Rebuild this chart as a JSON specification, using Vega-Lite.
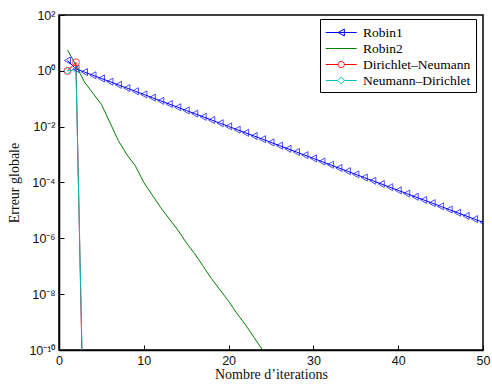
{
  "$schema": "https://vega.github.io/schema/vega-lite/v6.json",
  "autosize": "none",
  "width": 424,
  "height": 335,
  "padding": {"left": 59, "top": 15, "right": 9, "bottom": 39},
  "background": "white",
  "config": {
    "view": {"stroke": "black", "strokeWidth": 1.5},
    "axis": {
      "grid": false,
      "domainColor": "black",
      "domainWidth": 1.5,
      "tickColor": "black",
      "tickWidth": 1,
      "tickSize": -5,
      "labelFont": "Liberation Sans",
      "labelFontSize": 12.5,
      "labelColor": "#111",
      "titleFont": "Liberation Serif",
      "titleFontSize": 14,
      "titleFontWeight": "normal",
      "titleColor": "#111"
    },
    "legend": {
      "title": null,
      "orient": "none",
      "legendX": 261,
      "legendY": 4,
      "strokeColor": "black",
      "fillColor": "white",
      "padding": 5,
      "rowPadding": 1,
      "symbolSize": 240,
      "symbolStrokeWidth": 1,
      "symbolOpacity": 1,
      "labelOffset": 21,
      "labelFont": "Liberation Serif",
      "labelFontSize": 13.5,
      "labelColor": "black",
      "labelLimit": 300
    }
  },
  "data": {
    "values": [
      {"s": "Robin1", "x": 1, "y": 2.34},
      {"s": "Robin1", "x": 2, "y": 1.175},
      {"s": "Robin1", "x": 3, "y": 0.9027},
      {"s": "Robin1", "x": 4, "y": 0.6934},
      {"s": "Robin1", "x": 5, "y": 0.5327},
      {"s": "Robin1", "x": 6, "y": 0.4093},
      {"s": "Robin1", "x": 7, "y": 0.3144},
      {"s": "Robin1", "x": 8, "y": 0.2415},
      {"s": "Robin1", "x": 9, "y": 0.1855},
      {"s": "Robin1", "x": 10, "y": 0.1426},
      {"s": "Robin1", "x": 11, "y": 0.1095},
      {"s": "Robin1", "x": 12, "y": 0.08414},
      {"s": "Robin1", "x": 13, "y": 0.06464},
      {"s": "Robin1", "x": 14, "y": 0.04966},
      {"s": "Robin1", "x": 15, "y": 0.03815},
      {"s": "Robin1", "x": 16, "y": 0.02931},
      {"s": "Robin1", "x": 17, "y": 0.02252},
      {"s": "Robin1", "x": 18, "y": 0.0173},
      {"s": "Robin1", "x": 19, "y": 0.01329},
      {"s": "Robin1", "x": 20, "y": 0.01021},
      {"s": "Robin1", "x": 21, "y": 0.007844},
      {"s": "Robin1", "x": 22, "y": 0.006026},
      {"s": "Robin1", "x": 23, "y": 0.00463},
      {"s": "Robin1", "x": 24, "y": 0.003556},
      {"s": "Robin1", "x": 25, "y": 0.002732},
      {"s": "Robin1", "x": 26, "y": 0.002099},
      {"s": "Robin1", "x": 27, "y": 0.001612},
      {"s": "Robin1", "x": 28, "y": 0.001239},
      {"s": "Robin1", "x": 29, "y": 0.0009517},
      {"s": "Robin1", "x": 30, "y": 0.0007311},
      {"s": "Robin1", "x": 31, "y": 0.0005617},
      {"s": "Robin1", "x": 32, "y": 0.0004315},
      {"s": "Robin1", "x": 33, "y": 0.0003315},
      {"s": "Robin1", "x": 34, "y": 0.0002547},
      {"s": "Robin1", "x": 35, "y": 0.0001957},
      {"s": "Robin1", "x": 36, "y": 0.0001503},
      {"s": "Robin1", "x": 37, "y": 0.0001155},
      {"s": "Robin1", "x": 38, "y": 0.00008872},
      {"s": "Robin1", "x": 39, "y": 0.00006816},
      {"s": "Robin1", "x": 40, "y": 0.00005236},
      {"s": "Robin1", "x": 41, "y": 0.00004023},
      {"s": "Robin1", "x": 42, "y": 0.0000309},
      {"s": "Robin1", "x": 43, "y": 0.00002374},
      {"s": "Robin1", "x": 44, "y": 0.00001824},
      {"s": "Robin1", "x": 45, "y": 0.00001401},
      {"s": "Robin1", "x": 46, "y": 0.00001076},
      {"s": "Robin1", "x": 47, "y": 0.00000827},
      {"s": "Robin1", "x": 48, "y": 0.000006353},
      {"s": "Robin1", "x": 49, "y": 0.000004881},
      {"s": "Robin1", "x": 50, "y": 0.00000375},
      {"s": "Robin2", "x": 1, "y": 5.62},
      {"s": "Robin2", "x": 2, "y": 1.585},
      {"s": "Robin2", "x": 3, "y": 0.398},
      {"s": "Robin2", "x": 4, "y": 0.158},
      {"s": "Robin2", "x": 5, "y": 0.0631},
      {"s": "Robin2", "x": 6, "y": 0.01413},
      {"s": "Robin2", "x": 7, "y": 0.003162},
      {"s": "Robin2", "x": 8, "y": 0.001},
      {"s": "Robin2", "x": 9, "y": 0.000398},
      {"s": "Robin2", "x": 10, "y": 0.0001},
      {"s": "Robin2", "x": 11, "y": 3.55e-5},
      {"s": "Robin2", "x": 12, "y": 1.26e-5},
      {"s": "Robin2", "x": 13, "y": 5.01e-6},
      {"s": "Robin2", "x": 14, "y": 2.0e-6},
      {"s": "Robin2", "x": 15, "y": 7.08e-7},
      {"s": "Robin2", "x": 16, "y": 2.82e-7},
      {"s": "Robin2", "x": 17, "y": 1.0e-7},
      {"s": "Robin2", "x": 18, "y": 3.55e-8},
      {"s": "Robin2", "x": 19, "y": 1.41e-8},
      {"s": "Robin2", "x": 20, "y": 5.62e-9},
      {"s": "Robin2", "x": 21, "y": 2.0e-9},
      {"s": "Robin2", "x": 22, "y": 7.94e-10},
      {"s": "Robin2", "x": 23, "y": 2.82e-10},
      {"s": "Robin2", "x": 24, "y": 1.0e-10},
      {"s": "Robin2", "x": 25, "y": 3.55e-11},
      {"s": "Dirichlet–Neumann", "x": 1, "y": 1.0},
      {"s": "Dirichlet–Neumann", "x": 2, "y": 2.0},
      {"s": "Dirichlet–Neumann", "x": 3, "y": 3e-15},
      {"s": "Neumann–Dirichlet", "x": 1, "y": 1.0},
      {"s": "Neumann–Dirichlet", "x": 2, "y": 1.1},
      {"s": "Neumann–Dirichlet", "x": 3, "y": 1e-14}
    ]
  },
  "encoding": {
    "x": {
      "field": "x", "type": "quantitative",
      "scale": {"domain": [0, 50], "nice": false, "zero": false},
      "axis": {"values": [0, 10, 20, 30, 40, 50], "format": "d", "labelPadding": 9, "labelFlush": false, "title": "Nombre d’iterations", "titlePadding": 1}
    },
    "y": {
      "field": "y", "type": "quantitative",
      "scale": {"type": "log", "domain": [1e-10, 100], "nice": false},
      "axis": {
        "values": [1e-10, 1e-8, 1e-6, 1e-4, 1e-2, 1, 100],
        "labelExpr": "['10⁻¹⁰','10⁻⁸','10⁻⁶','10⁻⁴','10⁻²','10⁰','10²'][round(log(datum.value)/LN10)/2+5]",
        "labelPadding": 9,
        "labelFlush": false,
        "title": "Erreur globale",
        "titlePadding": 7
      }
    }
  },
  "layer": [
    {
      "mark": {"type": "line", "clip": true, "strokeWidth": 1},
      "encoding": {
        "color": {
          "field": "s", "type": "nominal",
          "scale": {
            "domain": ["Robin1", "Robin2", "Dirichlet–Neumann", "Neumann–Dirichlet"],
            "range": ["#0000ff", "#008000", "#ff0000", "#00bfbf"]
          },
          "legend": null
        }
      }
    },
    {
      "transform": [{"filter": "datum.s !== 'Robin2'"}],
      "mark": {"type": "point", "clip": true, "filled": false, "strokeWidth": 1, "size": 50},
      "encoding": {
        "color": {
          "field": "s", "type": "nominal",
          "scale": {
            "domain": ["Robin1", "Robin2", "Dirichlet–Neumann", "Neumann–Dirichlet"],
            "range": ["#0000ff", "#008000", "#ff0000", "#00bfbf"]
          },
          "legend": null
        },
        "shape": {
          "field": "s", "type": "nominal",
          "scale": {
            "domain": ["Robin1", "Dirichlet–Neumann", "Neumann–Dirichlet"],
            "range": ["triangle-left", "circle", "diamond"]
          },
          "legend": null
        }
      }
    },
    {
      "mark": {"type": "point", "clip": true, "filled": false, "opacity": 0, "strokeWidth": 1},
      "encoding": {
        "color": {
          "field": "s", "type": "nominal",
          "scale": {
            "domain": ["Robin1", "Robin2", "Dirichlet–Neumann", "Neumann–Dirichlet"],
            "range": ["#0000ff", "#008000", "#ff0000", "#00bfbf"]
          },
          "legend": {
            "title": null,
            "encode": {
              "labels": {
                "fontSize": {"condition": {"test": "datum.value === 'Robin1' || datum.value === 'Robin2'", "value": 18}, "value": 13.5}
              }
            }
          }
        },
        "shape": {
          "field": "s", "type": "nominal",
          "scale": {
            "domain": ["Robin1", "Robin2", "Dirichlet–Neumann", "Neumann–Dirichlet"],
            "range": [
              "M-1,0L3,0M1.4,-0.45L0.6,0L1.4,0.45Z",
              "M-1,0L3,0",
              "M-1,0L0.6,0M1.4,0L3,0M0.6,0A0.4,0.4,0,1,0,1.4,0A0.4,0.4,0,1,0,0.6,0",
              "M-1,0L0.55,0M1.45,0L3,0M0.55,0L1,-0.45L1.45,0L1,0.45Z"
            ]
          },
          "legend": {
            "title": null,
            "encode": {
              "labels": {
                "fontSize": {"condition": {"test": "datum.value === 'Robin1' || datum.value === 'Robin2'", "value": 18}, "value": 13.5}
              }
            }
          }
        }
      }
    }
  ],
  "resolve": {"scale": {"color": "independent", "shape": "independent"}}
}
